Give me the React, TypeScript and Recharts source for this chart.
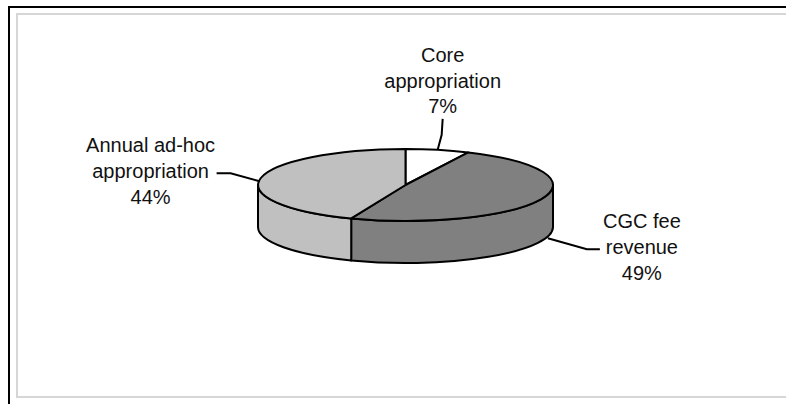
import { PieChart, Pie, Cell } from "recharts";

const categories = ["Core appropriation", "CGC fee revenue", "Annual ad-hoc appropriation"];
const shares = [7, 49, 44];
const labelRows = [
  ["Core", "appropriation"],
  ["CGC fee", "revenue"],
  ["Annual ad-hoc", "appropriation"]
];
const sliceColors = ["#ffffff", "#808080", "#c0c0c0"];

const data = categories.map((name, i) => ({ name, value: shares[i] }));

// flattening of the disc and height of its side, relative to the radius
const TILT = 36 / 147.5;
const DEPTH = 42 / 147.5;
const RAD = Math.PI / 180;
const FONT = "'Liberation Sans', Arial, sans-serif";

// label placement relative to the anchor on the rim (text centre, first baseline, leader)
const labelLayout = [
  { tx: 5, ty: -88, leader: [[0, 0], [4, -15], [5, -31]] },
  { tx: 101, ty: -13, leader: [[7, -3], [46, 8], [59, 8]] },
  { tx: -110, ty: -26, leader: [[-1, 3], [-30, -5], [-44, -5]] }
];

function rim(cx: number, cy: number, rx: number, ry: number, a: number) {
  return [cx + rx * Math.cos(a * RAD), cy - ry * Math.sin(a * RAD)];
}

function Slice3D(props: any) {
  const { cx, cy, outerRadius, startAngle, endAngle, fill } = props;
  const rx = outerRadius;
  const ry = outerRadius * TILT;
  const d = outerRadius * DEPTH;
  const hi = Math.max(startAngle, endAngle);
  const lo = Math.min(startAngle, endAngle);

  const walls: number[][] = [];
  for (let k = -2; k <= 2; k++) {
    const a = Math.max(lo, -180 + 360 * k);
    const b = Math.min(hi, 360 * k);
    if (b - a > 0.01) walls.push([a, b]);
  }

  const [sx, sy] = rim(cx, cy, rx, ry, hi);
  const [ex, ey] = rim(cx, cy, rx, ry, lo);
  const large = hi - lo > 180 ? 1 : 0;
  const top = `M${cx},${cy} L${sx},${sy} A${rx},${ry} 0 ${large} 1 ${ex},${ey} Z`;

  return (
    <g>
      {walls.map(([a, b], i) => {
        const [x1, y1] = rim(cx, cy, rx, ry, b);
        const [x2, y2] = rim(cx, cy, rx, ry, a);
        return (
          <path
            key={i}
            d={`M${x1},${y1} A${rx},${ry} 0 0 1 ${x2},${y2} L${x2},${y2 + d} A${rx},${ry} 0 0 0 ${x1},${y1 + d} Z`}
            fill={fill}
            stroke="#000"
            strokeWidth={2}
            strokeLinejoin="round"
          />
        );
      })}
      <path d={top} fill={fill} stroke="#000" strokeWidth={2} strokeLinejoin="round" />
    </g>
  );
}

function renderLabel(props: any) {
  const { cx, cy, outerRadius, midAngle, index, value } = props;
  const rx = outerRadius;
  const ry = outerRadius * TILT;
  let [ax, ay] = rim(cx, cy, rx, ry, midAngle);
  if (Math.sin(midAngle * RAD) < 0) ay += outerRadius * DEPTH;
  const lay = labelLayout[index];
  const rows = [...labelRows[index], `${value}%`];
  const pts = lay.leader.map(([dx, dy]) => `${ax + dx},${ay + dy}`).join(" ");
  return (
    <g key={`lbl-${index}`}>
      <polyline points={pts} fill="none" stroke="#000" strokeWidth={2} />
      <text
        x={ax + lay.tx}
        y={ay + lay.ty}
        textAnchor="middle"
        fontFamily={FONT}
        fontSize={20}
        fill="#111"
      >
        {rows.map((r, i) => (
          <tspan key={i} x={ax + lay.tx} dy={i === 0 ? 0 : 25.7}>
            {r}
          </tspan>
        ))}
      </text>
    </g>
  );
}

export default function App() {
  return (
    <div style={{ position: "absolute", left: 0, top: 0, width: 786, height: 404, background: "#fff" }}>
      <div style={{ position: "absolute", left: 8, top: 6, width: 778, height: 2, background: "#000" }} />
      <div style={{ position: "absolute", left: 8, top: 6, width: 2, height: 398, background: "#000" }} />
      <div style={{ position: "absolute", left: 16, top: 13, width: 770, height: 2, background: "#d6d6d6" }} />
      <div style={{ position: "absolute", left: 16, top: 13, width: 2, height: 385, background: "#d6d6d6" }} />
      <div style={{ position: "absolute", left: 16, top: 396, width: 770, height: 2, background: "#d6d6d6" }} />
      <div style={{ position: "absolute", left: 0, top: 0 }}>
        <PieChart width={786} height={404} margin={{ top: 0, right: 0, bottom: 0, left: 0 }}>
          <Pie
            data={data}
            dataKey="value"
            nameKey="name"
            cx={405.5}
            cy={185}
            outerRadius={147.5}
            startAngle={90}
            endAngle={-270}
            stroke="none"
            shape={Slice3D}
            label={renderLabel}
            labelLine={false}
            isAnimationActive={false}
          >
            {data.map((d, i) => (
              <Cell key={d.name} fill={sliceColors[i]} />
            ))}
          </Pie>
        </PieChart>
      </div>
    </div>
  );
}
